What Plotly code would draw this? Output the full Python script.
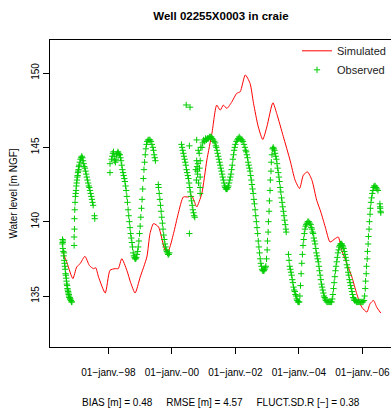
import plotly.graph_objects as go

# ---- simulated series (decimal years, water level m NGF) ----
sim_year = [1996.56, 1996.70, 1996.88, 1997.00, 1997.11, 1997.26, 1997.40, 1997.53, 1997.60, 1997.69,
            1997.90, 1998.05, 1998.21, 1998.31, 1998.42, 1998.58, 1998.70, 1998.84, 1999.00, 1999.21,
            1999.31, 1999.42, 1999.58, 1999.79, 1999.89, 2000.05, 2000.20, 2000.36, 2000.52, 2000.62,
            2000.70, 2000.78, 2000.94, 2001.10, 2001.26, 2001.41, 2001.52, 2001.62, 2001.73, 2001.89,
            2002.04, 2002.15, 2002.31, 2002.46, 2002.57, 2002.72, 2002.86, 2002.99, 2003.18, 2003.30,
            2003.51, 2003.72, 2003.88, 2004.02, 2004.14, 2004.27, 2004.41, 2004.56, 2004.69, 2004.83,
            2004.98, 2005.14, 2005.24, 2005.35, 2005.51, 2005.67, 2005.82, 2005.98, 2006.14, 2006.24,
            2006.35, 2006.45, 2006.58]
sim_level = [137.96, 137.2, 136.17, 136.95, 137.18, 137.67, 137.06, 136.84, 136.9, 136.27,
             135.2, 136.73, 136.84, 136.84, 137.51, 136.73, 135.9, 135.2, 136.27, 137.62,
             139.2, 139.87, 139.64, 138.07, 138.07, 139.2, 140.55, 141.66, 141.66, 141.75,
             141.4, 140.99, 141.89, 144.14, 145.94, 147.84, 147.5, 147.84, 147.62, 148.07,
             148.63, 148.74, 149.87, 149.31, 147.96, 146.38, 145.53, 146.38, 148.0, 147.28,
             145.71, 144.14, 142.79, 142.23, 143.13, 143.35, 142.79, 141.44, 140.65, 139.64,
             138.63, 138.86, 138.97, 138.07, 137.18, 136.27, 135.15, 134.25, 133.92, 134.48,
             134.70, 134.25, 133.85]

# ---- observed series, by measurement campaign ----
obs_year_96 = [1996.550, 1996.555, 1996.560, 1996.565, 1996.570, 1996.580, 1996.590, 1996.600, 1996.610, 1996.620,
               1996.630, 1996.640, 1996.650, 1996.660, 1996.670, 1996.680, 1996.690, 1996.700, 1996.710, 1996.720,
               1996.730, 1996.740, 1996.750, 1996.760, 1996.770, 1996.780, 1996.790, 1996.800, 1996.820, 1996.840,
               1996.850]
obs_level_96 = [138.5, 138.8, 138.6, 138.2, 138.7, 138.0, 137.7, 137.9, 137.4, 137.2,
                137.0, 136.8, 136.5, 136.4, 136.2, 136.0, 135.8, 135.7, 135.5, 135.4,
                135.3, 135.2, 135.1, 135.0, 134.9, 134.9, 134.8, 134.8, 134.7, 134.6,
                134.6]

obs_year_97 = [1996.92, 1996.92, 1996.93, 1996.93, 1996.94, 1996.95, 1996.96, 1996.97, 1996.98, 1996.99,
               1997.00, 1997.01, 1997.02, 1997.03, 1997.04, 1997.05, 1997.06, 1997.07, 1997.08, 1997.10,
               1997.12, 1997.14, 1997.16, 1997.18, 1997.20, 1997.22, 1997.24, 1997.26, 1997.28, 1997.30,
               1997.32, 1997.34, 1997.36, 1997.38, 1997.40, 1997.42, 1997.44, 1997.46, 1997.48, 1997.50,
               1997.52, 1997.56, 1997.57]
obs_level_97 = [138.4, 138.97, 139.5, 140.2, 140.8, 141.3, 141.7, 141.9, 142.1, 142.4,
                142.6, 142.8, 143.0, 143.1, 143.3, 143.4, 143.5, 143.7, 143.8, 144.0,
                144.2, 144.3, 144.4, 144.3, 144.1, 143.9, 143.7, 143.6, 143.4, 143.2,
                143.0, 142.8, 142.6, 142.4, 142.3, 142.1, 141.9, 141.7, 141.5, 141.3,
                141.1, 140.4, 140.2]

obs_year_98 = [1998.05, 1998.05,
               1998.10, 1998.12, 1998.14, 1998.16, 1998.18, 1998.20, 1998.22, 1998.24, 1998.26, 1998.28,
               1998.30, 1998.32, 1998.34, 1998.36, 1998.38, 1998.40, 1998.42, 1998.44, 1998.46, 1998.48,
               1998.50, 1998.52, 1998.54, 1998.56, 1998.58, 1998.60, 1998.62, 1998.64, 1998.66, 1998.68,
               1998.70, 1998.72, 1998.74, 1998.76, 1998.78, 1998.80, 1998.82, 1998.84, 1998.86, 1998.88,
               1998.90, 1998.92, 1998.94, 1998.96, 1998.98, 1999.00, 1999.02, 1999.04, 1999.06, 1999.08,
               1999.10, 1999.12, 1999.14, 1999.16, 1999.18, 1999.20, 1999.22, 1999.25, 1999.28, 1999.31,
               1999.34, 1999.37, 1999.40, 1999.42, 1999.44, 1999.46, 1999.48]
obs_level_98 = [143.9, 143.3,
                144.2, 144.4, 144.6, 144.7, 144.4, 144.1, 144.0, 144.2, 144.5, 144.6,
                144.7, 144.6, 144.5, 144.5, 144.3, 144.1, 143.8, 143.5, 143.3, 143.1,
                142.9, 142.7, 142.4, 142.1, 141.7, 141.3, 140.8, 140.4, 140.0, 139.6,
                139.2, 138.9, 138.6, 138.3, 137.9, 137.7, 137.6, 137.5, 137.5, 137.6,
                137.8, 138.0, 138.3, 138.7, 139.2, 139.7, 140.3, 140.9, 141.5, 142.2,
                142.9, 143.5, 144.0, 144.5, 144.9, 145.2, 145.4, 145.5, 145.5, 145.5,
                145.4, 145.2, 145.0, 144.8, 144.5, 144.3, 144.1]

obs_year_99 = [1999.57, 1999.58, 1999.60, 1999.62, 1999.64, 1999.66, 1999.68, 1999.70, 1999.72, 1999.74,
               1999.76, 1999.78, 1999.80, 1999.82, 1999.84, 1999.86, 1999.88, 1999.90, 1999.92]
obs_level_99 = [142.5, 142.3, 141.9, 141.5, 141.1, 140.7, 140.3, 139.9, 139.5, 139.1,
                138.8, 138.5, 138.3, 138.1, 138.0, 137.9, 137.8, 137.8, 137.9]

obs_year_00 = [2000.30, 2000.32, 2000.34, 2000.36, 2000.38, 2000.40, 2000.42, 2000.44, 2000.46, 2000.48,
               2000.50, 2000.52, 2000.54, 2000.56, 2000.58, 2000.60, 2000.62, 2000.64, 2000.66, 2000.68,
               2000.70, 2000.72,
               2000.45, 2000.57, 2000.55, 2000.55,
               2000.78, 2000.83, 2000.78, 2000.79, 2000.81, 2000.89, 2000.89, 2000.89, 2000.89, 2000.75,
               2000.77, 2000.86, 2000.91, 2000.80, 2000.82, 2000.84, 2000.87]
obs_level_00 = [145.2, 145.0, 144.8, 144.6, 144.4, 144.2, 144.0, 143.8, 143.5, 143.3,
                143.1, 142.9, 142.6, 142.3, 142.0, 141.7, 141.4, 141.1, 140.8, 140.6,
                140.4, 140.3,
                147.85, 147.7, 139.2, 145.1,
                145.5, 144.8, 144.1, 143.7, 143.2, 144.1, 143.0, 142.3, 141.9, 143.5,
                142.8, 144.6, 145.0, 143.4, 143.9, 142.6, 143.6]

obs_year_01 = [2000.95, 2000.97, 2001.00, 2001.03, 2001.06, 2001.09, 2001.12, 2001.15, 2001.18, 2001.21,
               2001.24, 2001.27, 2001.30, 2001.33, 2001.36, 2001.38, 2001.40, 2001.42, 2001.44, 2001.46,
               2001.48, 2001.50, 2001.52, 2001.54, 2001.56, 2001.58, 2001.60, 2001.62, 2001.64, 2001.66,
               2001.68, 2001.70, 2001.72, 2001.74, 2001.76, 2001.78, 2001.80, 2001.82, 2001.84, 2001.86,
               2001.88, 2001.90, 2001.92, 2001.94, 2001.96, 2001.98, 2002.00, 2002.03, 2002.06, 2002.09,
               2002.12, 2002.15, 2002.18, 2002.21, 2002.24, 2002.27, 2002.30, 2002.32, 2002.34, 2002.36,
               2002.38, 2002.40, 2002.42, 2002.44, 2002.46, 2002.48, 2002.50, 2002.52, 2002.54, 2002.56,
               2002.58, 2002.60, 2002.62, 2002.64, 2002.66, 2002.68, 2002.70, 2002.72, 2002.74, 2002.76,
               2002.78, 2002.80, 2002.82, 2002.84, 2002.86, 2002.88, 2002.90, 2002.92, 2002.94, 2002.96,
               2002.98, 2003.00, 2003.01, 2003.03, 2003.04, 2003.06, 2003.07, 2003.09, 2003.10, 2003.12,
               2003.13, 2003.15, 2003.17, 2003.19, 2003.21, 2003.23, 2003.25, 2003.27, 2003.29, 2003.31,
               2003.33, 2003.35, 2003.37, 2003.39, 2003.41, 2003.43, 2003.45, 2003.47, 2003.49, 2003.51,
               2003.53, 2003.55, 2003.57, 2003.59, 2003.60]
obs_level_01 = [145.0, 145.3, 145.5, 145.4, 145.6, 145.5, 145.6, 145.6, 145.7, 145.7,
                145.7, 145.6, 145.5, 145.4, 145.3, 145.1, 145.0, 144.8, 144.6, 144.4,
                144.2, 144.0, 143.8, 143.6, 143.4, 143.2, 143.0, 142.8, 142.6, 142.4,
                142.3, 142.2, 142.2, 142.2, 142.3, 142.4, 142.6, 142.8, 143.0, 143.2,
                143.5, 143.8, 144.2, 144.5, 144.8, 145.0, 145.2, 145.4, 145.5, 145.6,
                145.7, 145.6, 145.5, 145.5, 145.4, 145.2, 145.0, 144.8, 144.7, 144.5,
                144.3, 144.0, 143.8, 143.6, 143.4, 143.1, 142.8, 142.5, 142.2, 141.9,
                141.5, 141.2, 140.8, 140.4, 140.0, 139.6, 139.2, 138.7, 138.3, 137.9,
                137.5, 137.2, 137.0, 136.8, 136.7, 136.7, 136.7, 136.8, 136.9, 137.0,
                137.5, 138.1, 138.7, 139.3, 140.0, 140.7, 141.4, 142.1, 142.8, 143.4,
                144.0, 144.5, 144.9, 145.0, 144.9, 144.8, 144.6, 144.4, 144.2, 143.9,
                143.6, 143.3, 143.0, 142.7, 142.3, 142.0, 141.6, 141.3, 141.0, 140.7,
                140.4, 140.1, 139.8, 139.5, 139.3]

obs_year_04 = [2003.67, 2003.69, 2003.71, 2003.73, 2003.75, 2003.77, 2003.79, 2003.81, 2003.83, 2003.85,
               2003.87, 2003.89, 2003.91, 2003.93, 2003.95, 2003.97, 2003.99, 2004.01, 2004.03, 2004.05,
               2004.07, 2004.09, 2004.11, 2004.13, 2004.15, 2004.17, 2004.19, 2004.21, 2004.23, 2004.25,
               2004.28, 2004.31, 2004.34, 2004.37, 2004.39, 2004.41, 2004.43, 2004.45, 2004.47, 2004.49,
               2004.51, 2004.53, 2004.55, 2004.57, 2004.59, 2004.61, 2004.63, 2004.65, 2004.67, 2004.69,
               2004.71, 2004.73, 2004.75, 2004.77, 2004.79, 2004.81, 2004.83, 2004.85, 2004.88, 2004.91,
               2004.94, 2004.97, 2005.00, 2005.03, 2005.05, 2005.07, 2005.09, 2005.11, 2005.13, 2005.15,
               2005.17, 2005.19, 2005.21, 2005.23, 2005.25, 2005.27, 2005.29, 2005.31, 2005.33, 2005.35,
               2005.37, 2005.39, 2005.41, 2005.43, 2005.45, 2005.47, 2005.49, 2005.51, 2005.53, 2005.55,
               2005.57, 2005.59, 2005.61, 2005.63, 2005.65, 2005.67, 2005.69, 2005.71, 2005.73, 2005.75,
               2005.78, 2005.81, 2005.84, 2005.87, 2005.90, 2005.93, 2005.96, 2005.99, 2006.02, 2006.05,
               2006.07, 2006.09, 2006.10, 2006.12, 2006.13, 2006.15, 2006.16, 2006.18, 2006.19, 2006.21,
               2006.22, 2006.24, 2006.25, 2006.27, 2006.29, 2006.31, 2006.33, 2006.35, 2006.37, 2006.40,
               2006.43, 2006.46, 2006.49,
               2006.550, 2006.555, 2006.560, 2006.570, 2006.580]
obs_level_04 = [137.8, 137.4, 137.0, 136.8, 136.6, 136.4, 136.1, 135.9, 135.6, 135.4,
                135.3, 135.1, 135.0, 134.8, 134.7, 134.6, 134.6, 134.6, 135.0, 135.7,
                136.5, 137.2, 137.8, 138.4, 138.8, 139.2, 139.5, 139.7, 139.8, 139.9,
                140.0, 140.0, 139.9, 139.8, 139.6, 139.5, 139.3, 139.2, 138.9, 138.7,
                138.5, 138.2, 137.9, 137.7, 137.5, 137.3, 137.0, 136.7, 136.4, 136.1,
                135.8, 135.6, 135.4, 135.2, 135.0, 134.9, 134.8, 134.7, 134.6, 134.6,
                134.6, 134.6, 134.6, 134.6, 134.8, 135.1, 135.5, 135.9, 136.3, 136.7,
                137.0, 137.3, 137.6, 137.9, 138.1, 138.3, 138.4, 138.5, 138.5, 138.5,
                138.4, 138.3, 138.2, 138.0, 137.8, 137.6, 137.4, 137.1, 136.9, 136.6,
                136.4, 136.1, 135.9, 135.7, 135.5, 135.3, 135.1, 134.9, 134.8, 134.7,
                134.7, 134.6, 134.6, 134.6, 134.6, 134.6, 134.6, 134.6, 134.6, 134.7,
                135.0, 135.5, 136.0, 136.5, 137.0, 137.5, 138.0, 138.5, 139.0, 139.5,
                140.0, 140.5, 140.9, 141.3, 141.6, 141.9, 142.1, 142.3, 142.4, 142.4,
                142.3, 142.2, 142.1,
                141.2, 141.0, 140.9, 140.7, 140.6]

obs_year = obs_year_96 + obs_year_97 + obs_year_98 + obs_year_99 + obs_year_00 + obs_year_01 + obs_year_04
obs_level = obs_level_96 + obs_level_97 + obs_level_98 + obs_level_99 + obs_level_00 + obs_level_01 + obs_level_04
assert len(obs_year) == len(obs_level)

tick_years = [1998, 2000, 2002, 2004, 2006]
tick_labels = ["01\u2212janv.\u221298", "01\u2212janv.\u221200", "01\u2212janv.\u221202",
               "01\u2212janv.\u221204", "01\u2212janv.\u221206"]
y_ticks = [135, 140, 145, 150]

title_text = "Well 02255X0003 in craie"
stats_text = "BIAS [m] = 0.48     RMSE [m] = 4.57     FLUCT.SD.R [\u2212] = 0.38"

FONT = "Liberation Sans, Arial, sans-serif"

fig = go.Figure()
fig.add_trace(go.Scatter(x=sim_year, y=sim_level, mode="lines", name="Simulated",
                         line=dict(color="#FF0000", width=1, shape="spline", smoothing=0.6)))
fig.add_trace(go.Scatter(x=obs_year, y=obs_level, mode="markers", name="Observed",
                         marker=dict(symbol="cross-thin", size=4.5, color="#00CD00",
                                     line=dict(color="#00CD00", width=1))))

fig.update_layout(
    width=391, height=412,
    margin=dict(l=50, r=0, t=40, b=65),
    paper_bgcolor="white", plot_bgcolor="white",
    font=dict(family=FONT, size=10, color="#000000"),
    title=dict(text="<b>" + title_text + "</b>", x=0.565, xanchor="center",
               y=1 - 15.5 / 412, yanchor="middle", font=dict(size=11.5, color="#000000")),
    showlegend=True,
    legend=dict(x=1, xanchor="right", y=1.012, yanchor="top", bgcolor="rgba(0,0,0,0)",
                font=dict(size=11, color="#222222"), tracegroupgap=0, itemwidth=30),
    xaxis=dict(range=[1996.16, 2006.90], tickvals=tick_years, ticktext=tick_labels,
               showgrid=False, zeroline=False, showline=True, mirror=True,
               linecolor="#000000", linewidth=1, ticks="outside", ticklen=6,
               tickcolor="#000000", tickfont=dict(size=10), ticklabelstandoff=10),
    yaxis=dict(range=[131.57, 152.22], tickvals=y_ticks,
               showgrid=False, zeroline=False, showline=True, mirror=False,
               linecolor="#000000", linewidth=1, ticks="outside", ticklen=6,
               tickcolor="#000000", tickangle=-90, tickfont=dict(size=10),
               title=dict(text="Water level [m NGF]", font=dict(size=10), standoff=10)),
    annotations=[dict(text=stats_text, xref="paper", yref="paper", x=0.5, y=-(402 - 347) / 307,
                      xanchor="center", yanchor="middle", showarrow=False,
                      font=dict(size=10, color="#000000"))],
)

fig.write_html("out.html", config={"displayModeBar": False},
               post_script="document.body.style.margin='0';document.body.style.overflow='hidden';")
